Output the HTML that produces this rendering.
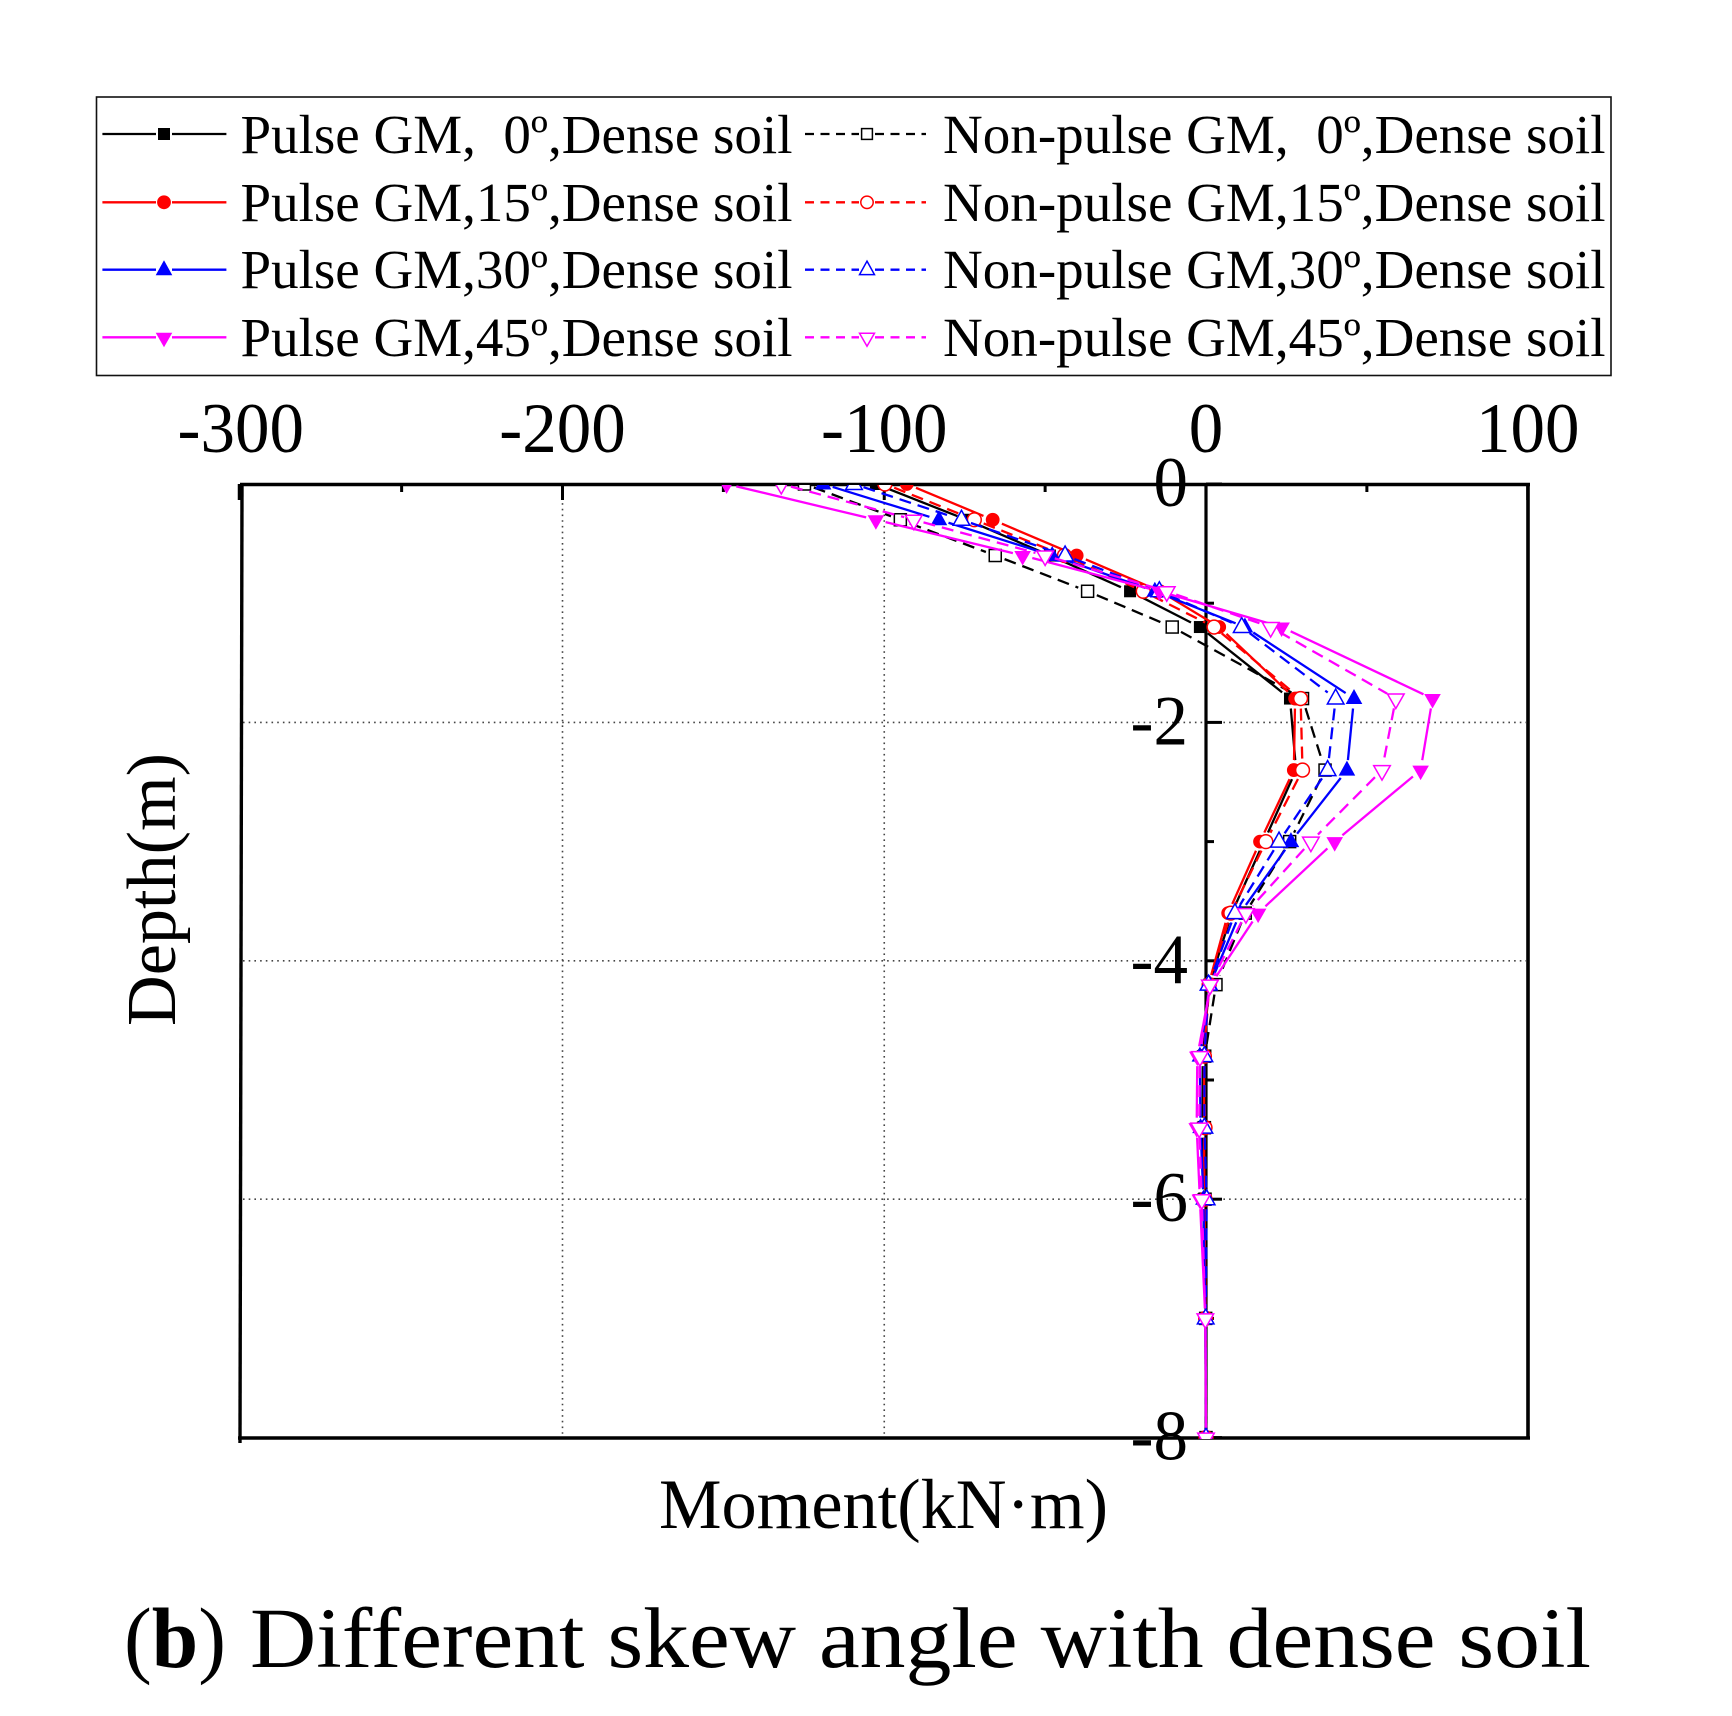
<!DOCTYPE html>
<html lang="en">
<head>
<meta charset="utf-8">
<title>Moment vs depth, different skew angle with dense soil</title>
<style>
html,body{margin:0;padding:0;background:#fff;}
svg{display:block;}
text{font-family:"Liberation Serif","Times New Roman",serif;fill:#000;white-space:pre;}
</style>
</head>
<body>
<svg id="chart" xmlns="http://www.w3.org/2000/svg" width="1732" height="1716" viewBox="0 0 1732 1716">
  <defs><clipPath id="plot-clip"><rect x="238" y="485" width="1291" height="954"/></clipPath></defs>
  <rect x="0" y="0" width="1732" height="1716" fill="#fff"/>
  <rect x="96.5" y="97" width="1514.5" height="278.5" fill="#fff" stroke="#111" stroke-width="1.6"/>
  <g id="legend-marks"></g>
  <g font-size="55">
    <text x="240.5" y="153" textLength="552" lengthAdjust="spacingAndGlyphs">Pulse GM,  0º,Dense soil</text>
    <text x="240.5" y="221" textLength="552" lengthAdjust="spacingAndGlyphs">Pulse GM,15º,Dense soil</text>
    <text x="240.5" y="288" textLength="552" lengthAdjust="spacingAndGlyphs">Pulse GM,30º,Dense soil</text>
    <text x="240.5" y="356" textLength="552" lengthAdjust="spacingAndGlyphs">Pulse GM,45º,Dense soil</text>
    <text x="943" y="153" textLength="662.5" lengthAdjust="spacingAndGlyphs">Non-pulse GM,  0º,Dense soil</text>
    <text x="943" y="221" textLength="662.5" lengthAdjust="spacingAndGlyphs">Non-pulse GM,15º,Dense soil</text>
    <text x="943" y="288" textLength="662.5" lengthAdjust="spacingAndGlyphs">Non-pulse GM,30º,Dense soil</text>
    <text x="943" y="356" textLength="662.5" lengthAdjust="spacingAndGlyphs">Non-pulse GM,45º,Dense soil</text>
  </g>
  <g id="grid"></g>
  <g id="axes"></g>
  <g id="series" clip-path="url(#plot-clip)"></g>
  <text x="659" y="1528" font-size="71" textLength="449" lengthAdjust="spacingAndGlyphs">Moment(kN·m)</text>
  <text transform="translate(175 1026) rotate(-90)" x="0" y="0" font-size="70" textLength="273" lengthAdjust="spacingAndGlyphs">Depth(m)</text>
  <text x="124" y="1667" font-size="86" textLength="102" lengthAdjust="spacingAndGlyphs">(<tspan font-weight="bold">b</tspan>)</text>
  <text x="250" y="1667" font-size="86" textLength="1341" lengthAdjust="spacingAndGlyphs">Different skew angle with dense soil</text>
</svg>
<script>
var depths = [0, -0.3, -0.6, -0.9, -1.2, -1.8, -2.4, -3.0, -3.6, -4.2, -4.8, -5.4, -6, -7, -8];
var pulse0 = [-102.6, -74.4, -48.5, -23.6, -1.9, 26.1, 28, 18, 8, 1, -1, -1, -0.8, -0.2, 0];
var pulse15 = [-93, -66.3, -40.2, -14.3, 4.1, 27.7, 27.3, 16.8, 6.9, 0.8, -0.6, -0.6, -0.5, -0.1, 0];
var pulse30 = [-119, -83, -47.8, -15.9, 12.1, 46, 43.8, 26.4, 10.6, 1.2, -1.9, -1.7, -0.8, -0.2, 0];
var pulse45 = [-149, -102.6, -57, -14.5, 23.5, 70.4, 66.7, 40, 16.2, 1.5, -2.7, -2.9, -1.9, -0.2, 0];
var nonPulse0 = [-124.8, -95, -65.5, -36.8, -10.5, 30, 37, 26, 12.2, 3.1, -0.4, -0.5, -0.3, -0.1, 0];
var nonPulse15 = [-99.8, -72, -44, -19.5, 2.5, 29.4, 30, 18.6, 7.7, 1, -0.5, -0.3, -0.3, -0.1, 0];
var nonPulse30 = [-109.4, -76, -43.8, -14.5, 11.1, 40.3, 37.8, 22.7, 9, 0.8, -0.5, -0.5, 0.2, -0.1, 0];
var nonPulse45 = [-132, -90.8, -50, -12.2, 20.1, 59, 54.7, 32.6, 12.4, 1.2, -1.9, -2.1, -1.3, -0.2, 0];
var xTickLabels = [-300, -200, -100, 0, 100];
var xMinorTicks = [-250, -150, -50, 50];
var yTickLabels = [0, -2, -4, -6, -8];
var yMinorTicks = [-1, -3, -5, -7];
var xGridValues = [-200, -100];
var yGridValues = [-2, -4, -6];

var seriesList = [
  {name: 'pulse-0', values: pulse0, color: '#000', shape: 'square', open: false, row: 0},
  {name: 'non-pulse-0', values: nonPulse0, color: '#000', shape: 'square', open: true, row: 0},
  {name: 'pulse-15', values: pulse15, color: '#f00', shape: 'circle', open: false, row: 1},
  {name: 'non-pulse-15', values: nonPulse15, color: '#f00', shape: 'circle', open: true, row: 1},
  {name: 'pulse-30', values: pulse30, color: '#00f', shape: 'up', open: false, row: 2},
  {name: 'non-pulse-30', values: nonPulse30, color: '#00f', shape: 'up', open: true, row: 2},
  {name: 'pulse-45', values: pulse45, color: '#f0f', shape: 'down', open: false, row: 3},
  {name: 'non-pulse-45', values: nonPulse45, color: '#f0f', shape: 'down', open: true, row: 3}
];

var NS = 'http://www.w3.org/2000/svg';
function xScale(v) { return 1206 + v * 3.2175; }
function yScale(d) { return 484 - d * 119.2; }

function make(parent, tag, attrs) {
  var el = document.createElementNS(NS, tag);
  for (var k in attrs) { el.setAttribute(k, attrs[k]); }
  parent.appendChild(el);
  return el;
}

function drawMarker(parent, x, y, s, scale) {
  var fill = s.open ? '#fff' : s.color;
  var sw = s.open ? 1.5 : 0;
  var el;
  if (s.shape === 'square') {
    el = make(parent, 'rect', {x: x - 6 * scale, y: y - 6 * scale, width: 12 * scale, height: 12 * scale, fill: s.open ? '#fff' : s.color, stroke: s.color, 'stroke-width': sw});
  } else if (s.shape === 'circle') {
    el = make(parent, 'circle', {cx: x, cy: y, r: 6.9 * scale, fill: fill, stroke: s.color, 'stroke-width': sw});
  } else if (s.shape === 'up') {
    el = make(parent, 'polygon', {points: (x) + ',' + (y - 9.5 * scale) + ' ' + (x + 8.3 * scale) + ',' + (y + 5.5 * scale) + ' ' + (x - 8.3 * scale) + ',' + (y + 5.5 * scale), fill: fill, stroke: s.color, 'stroke-width': sw});
  } else {
    el = make(parent, 'polygon', {points: (x) + ',' + (y + 10 * scale) + ' ' + (x + 8.3 * scale) + ',' + (y - 4.5 * scale) + ' ' + (x - 8.3 * scale) + ',' + (y - 4.5 * scale), fill: fill, stroke: s.color, 'stroke-width': sw});
  }
  return el;
}

function tickEm(v) {
  var str = String(v);
  return (v < 0 ? 0.333 : 0) + (str.replace('-', '').length) * 0.5;
}

var gridG = document.getElementById('grid');
xGridValues.forEach(function (v) {
  var g = make(gridG, 'line', {x1: xScale(v), x2: xScale(v), y1: 486, y2: 1437, stroke: '#444', 'stroke-width': 1.6, 'stroke-dasharray': '1.6 4.1'});
  
  
});
yGridValues.forEach(function (d) {
  var g = make(gridG, 'line', {x1: 243, x2: 1526, y1: yScale(d), y2: yScale(d), stroke: '#444', 'stroke-width': 1.6, 'stroke-dasharray': '1.6 4.1'});
  
  
});

var axesG = document.getElementById('axes');
var frame = [
  ['top-axis-line', 240, 484.5, 1530, 484.5, 3.4],
  ['bottom-axis-line', 238, 1438, 1530, 1438, 3.4],
  ['left-frame-line', 242, 484, 240, 1443, 3.4],
  ['right-frame-line', 1528, 484, 1528, 1439, 3.6],
  ['y-axis-line', xScale(0), 484, xScale(0), 1438, 3.2],
  ['left-corner-tick', 240.5, 484, 240.5, 500, 5.5]
];
frame.forEach(function (f) {
  var l = make(axesG, 'line', {x1: f[1], y1: f[2], x2: f[3], y2: f[4], stroke: '#000', 'stroke-width': f[5]});
  
  
});
xTickLabels.forEach(function (v) {
  var t = make(axesG, 'line', {x1: xScale(v), x2: xScale(v), y1: 484, y2: 500, stroke: '#000', 'stroke-width': 3});
  
  
  var lbl = make(axesG, 'text', {x: xScale(v), y: 452, 'font-size': 71, 'text-anchor': 'middle', textLength: tickEm(v) * 69, lengthAdjust: 'spacingAndGlyphs'});
  lbl.textContent = String(v);
  
  
});
xMinorTicks.forEach(function (v) {
  var t = make(axesG, 'line', {x1: xScale(v), x2: xScale(v), y1: 484, y2: 492, stroke: '#000', 'stroke-width': 3});
  
  
});
yTickLabels.forEach(function (d) {
  var t = make(axesG, 'line', {x1: xScale(0), x2: xScale(0) + 16, y1: yScale(d), y2: yScale(d), stroke: '#000', 'stroke-width': 3});
  
  
  var lbl = make(axesG, 'text', {x: 1188, y: yScale(d) + 22, 'font-size': 71, 'text-anchor': 'end', textLength: tickEm(d) * 69, lengthAdjust: 'spacingAndGlyphs'});
  lbl.textContent = String(d);
  
  
});
yMinorTicks.forEach(function (d) {
  var t = make(axesG, 'line', {x1: xScale(0), x2: xScale(0) + 8, y1: yScale(d), y2: yScale(d), stroke: '#000', 'stroke-width': 3});
  
  
});

var seriesG = document.getElementById('series');
seriesList.forEach(function (s) {
  var g = make(seriesG, 'g', {});
  
  
  for (var i = 0; i < depths.length - 1; i++) {
    var x1 = xScale(s.values[i]), y1 = yScale(depths[i]);
    var x2 = xScale(s.values[i + 1]), y2 = yScale(depths[i + 1]);
    var dx = x2 - x1, dy = y2 - y1, len = Math.sqrt(dx * dx + dy * dy);
    var cut = 10 / len;
    var seg = make(g, 'line', {
      x1: x1 + dx * cut, y1: y1 + dy * cut, x2: x2 - dx * cut, y2: y2 - dy * cut,
      stroke: s.color, 'stroke-width': 2.3
    });
    if (s.open) { seg.setAttribute('stroke-dasharray', '12 7'); }
    
    
  }
  depths.forEach(function (d, i) {
    var m = drawMarker(g, xScale(s.values[i]), yScale(d), s, 1);
    
    
  });
});

var legendG = document.getElementById('legend-marks');
var legendRows = [134, 202.3, 269.7, 337.3];
seriesList.forEach(function (s) {
  var y = legendRows[s.row];
  var x0 = s.open ? 805 : 102.4;
  var x1 = s.open ? 926 : 226.4;
  var mid = s.open ? 867 : 164;
  var left = make(legendG, 'line', {x1: x0, x2: mid - 8, y1: y, y2: y, stroke: s.color, 'stroke-width': 2.3});
  var right = make(legendG, 'line', {x1: mid + 8, x2: x1, y1: y, y2: y, stroke: s.color, 'stroke-width': 2.3});
  if (s.open) {
    left.setAttribute('stroke-dasharray', '9 6.5');
    right.setAttribute('stroke-dasharray', '9 6.5');
  }
  
  
  
  
  var m = drawMarker(legendG, mid, y, s, s.open ? 0.9 : 1);
  
  
});
</script>
</body>
</html>
